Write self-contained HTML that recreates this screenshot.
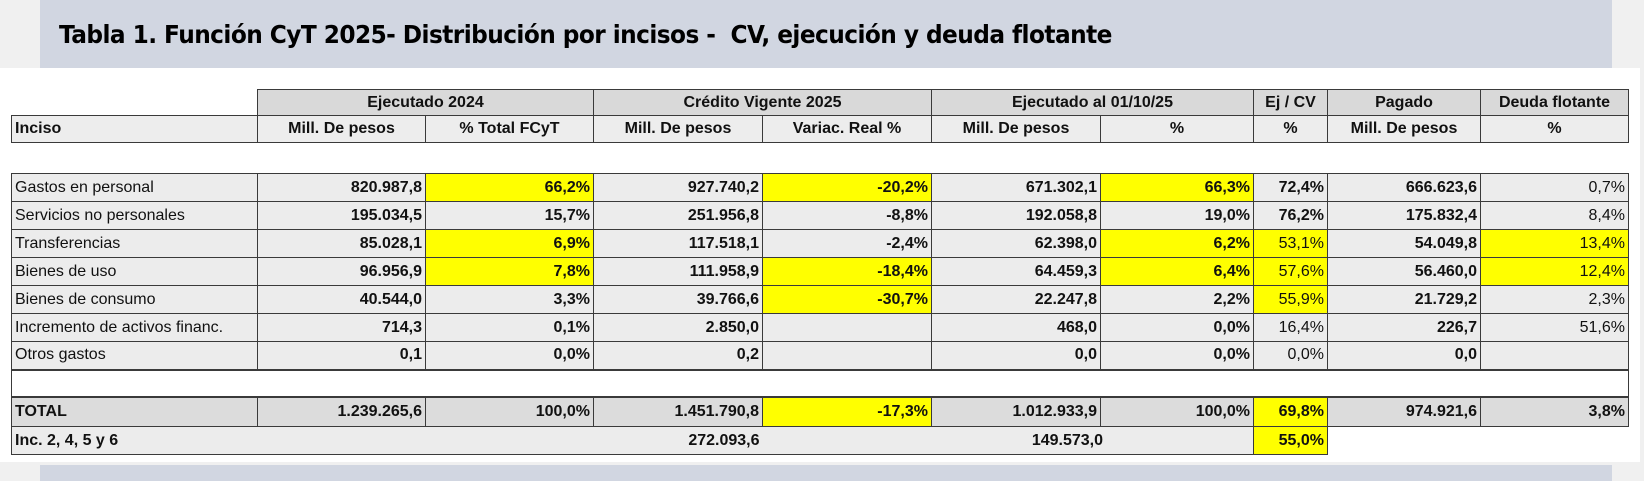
<!DOCTYPE html>
<html><head><meta charset="utf-8"><style>
*{margin:0;padding:0;box-sizing:border-box}
body{width:1644px;height:481px;background:#f0f0f0;position:relative;overflow:hidden;font-family:"Liberation Sans",Arial,sans-serif}
#band{position:absolute;left:40px;top:0;width:1572px;height:68px;background:#d1d6e1}
#title{position:absolute;left:59px;top:20px;font-size:25px;font-weight:bold;color:#000;font-family:"DejaVu Sans","Liberation Sans",sans-serif;letter-spacing:-0.6px;transform:scaleX(0.93);transform-origin:left}
#white{position:absolute;left:0;top:68px;width:1640px;height:394px;background:#fff}
#band2{position:absolute;left:40px;top:465px;width:1572px;height:16px;background:#d1d6e1}
table{position:absolute;left:11px;top:89px;border-collapse:collapse;table-layout:fixed;font-size:16px;color:#111}
td{border:1px solid #3a3a3a;padding:0 3px;white-space:nowrap;overflow:hidden;background:#ececec;text-align:right}
.h1 td{background:#d9d9d9;font-weight:bold;text-align:center;height:26px}
.h2 td{background:#ededed;font-weight:bold;text-align:center;height:27px}
td.n{border:none;background:transparent}
td.l{text-align:left}
.b{font-weight:bold}
td.y,.t td.y{background:#ffff00}
.r td{height:28px}
.t td{background:#dcdcdc;font-weight:bold;height:30px;border-top:2px solid #3a3a3a}
</style></head><body>
<div id="band"></div><div id="title">Tabla 1. Función CyT 2025- Distribución por incisos -&nbsp; CV, ejecución y deuda flotante</div>
<div id="white"></div><div id="band2"></div>
<table>
<colgroup><col style="width:246px"><col style="width:168px"><col style="width:168px"><col style="width:169px"><col style="width:169px"><col style="width:169px"><col style="width:153px"><col style="width:74px"><col style="width:153px"><col style="width:148px"></colgroup>
<tr class="h1"><td class="n"></td><td colspan="2">Ejecutado 2024</td><td colspan="2">Crédito Vigente 2025</td><td colspan="2">Ejecutado al 01/10/25</td><td>Ej / CV</td><td>Pagado</td><td>Deuda flotante</td></tr>
<tr class="h2"><td class="l">Inciso</td><td>Mill. De pesos</td><td>% Total FCyT</td><td>Mill. De pesos</td><td>Variac. Real %</td><td>Mill. De pesos</td><td>%</td><td>%</td><td>Mill. De pesos</td><td>%</td></tr>
<tr><td class="n" colspan="10" style="height:31px"></td></tr>
<tr class="r"><td class="l">Gastos en personal</td><td class="b">820.987,8</td><td class="b y">66,2%</td><td class="b">927.740,2</td><td class="b y">-20,2%</td><td class="b">671.302,1</td><td class="b y">66,3%</td><td class="b">72,4%</td><td class="b">666.623,6</td><td>0,7%</td></tr>
<tr class="r"><td class="l">Servicios no personales</td><td class="b">195.034,5</td><td class="b">15,7%</td><td class="b">251.956,8</td><td class="b">-8,8%</td><td class="b">192.058,8</td><td class="b">19,0%</td><td class="b">76,2%</td><td class="b">175.832,4</td><td>8,4%</td></tr>
<tr class="r"><td class="l">Transferencias</td><td class="b">85.028,1</td><td class="b y">6,9%</td><td class="b">117.518,1</td><td class="b">-2,4%</td><td class="b">62.398,0</td><td class="b y">6,2%</td><td class="y">53,1%</td><td class="b">54.049,8</td><td class="y">13,4%</td></tr>
<tr class="r"><td class="l">Bienes de uso</td><td class="b">96.956,9</td><td class="b y">7,8%</td><td class="b">111.958,9</td><td class="b y">-18,4%</td><td class="b">64.459,3</td><td class="b y">6,4%</td><td class="y">57,6%</td><td class="b">56.460,0</td><td class="y">12,4%</td></tr>
<tr class="r"><td class="l">Bienes de consumo</td><td class="b">40.544,0</td><td class="b">3,3%</td><td class="b">39.766,6</td><td class="b y">-30,7%</td><td class="b">22.247,8</td><td class="b">2,2%</td><td class="y">55,9%</td><td class="b">21.729,2</td><td>2,3%</td></tr>
<tr class="r"><td class="l">Incremento de activos financ.</td><td class="b">714,3</td><td class="b">0,1%</td><td class="b">2.850,0</td><td></td><td class="b">468,0</td><td class="b">0,0%</td><td>16,4%</td><td class="b">226,7</td><td>51,6%</td></tr>
<tr class="r"><td class="l">Otros gastos</td><td class="b">0,1</td><td class="b">0,0%</td><td class="b">0,2</td><td></td><td class="b">0,0</td><td class="b">0,0%</td><td>0,0%</td><td class="b">0,0</td><td></td></tr>
<tr><td colspan="10" style="background:#fff;height:27px;border-top:2px solid #3a3a3a"></td></tr>
<tr class="t"><td class="l">TOTAL</td><td>1.239.265,6</td><td>100,0%</td><td>1.451.790,8</td><td class="y">-17,3%</td><td>1.012.933,9</td><td>100,0%</td><td class="y">69,8%</td><td>974.921,6</td><td>3,8%</td></tr>
<tr class="r"><td class="l b" style="border-right:none">Inc. 2, 4, 5 y 6</td><td colspan="3" class="b" style="border-left:none;border-right:none">272.093,6</td><td colspan="3" class="b" style="border-left:none;padding-right:150px">149.573,0</td><td class="b y">55,0%</td><td class="n" colspan="2" style="border-top:1px solid #3a3a3a"></td></tr>
</table>
</body></html>
